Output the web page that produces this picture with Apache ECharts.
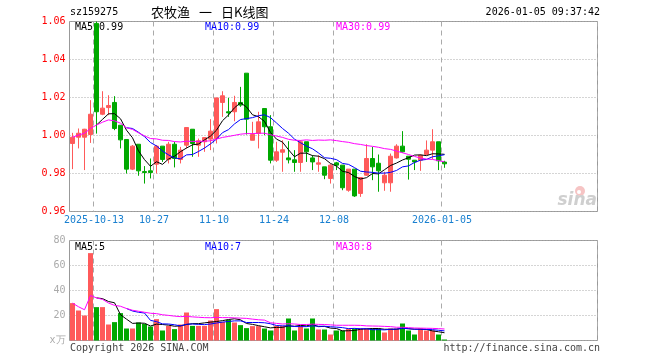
<!DOCTYPE html>
<html>
<head>
<meta charset="utf-8">
<script src="https://cdn.jsdelivr.net/npm/echarts@6/dist/echarts.min.js"></script>
<style>html,body{margin:0;padding:0;background:#fff}#c{width:660px;height:360px}</style>
</head>
<body>
<div id="c"></div>
<script>
// ---- data ----
const dates = ['2025-09-29','2025-09-30','2025-10-09','2025-10-10',
'2025-10-13','2025-10-14','2025-10-15','2025-10-16','2025-10-17',
'2025-10-20','2025-10-21','2025-10-22','2025-10-23','2025-10-24',
'2025-10-27','2025-10-28','2025-10-29','2025-10-30','2025-10-31',
'2025-11-03','2025-11-04','2025-11-05','2025-11-06','2025-11-07',
'2025-11-10','2025-11-11','2025-11-12','2025-11-13','2025-11-14',
'2025-11-17','2025-11-18','2025-11-19','2025-11-20','2025-11-21',
'2025-11-24','2025-11-25','2025-11-26','2025-11-27','2025-11-28',
'2025-12-01','2025-12-02','2025-12-03','2025-12-04','2025-12-05',
'2025-12-08','2025-12-09','2025-12-10','2025-12-11','2025-12-12',
'2025-12-15','2025-12-16','2025-12-17','2025-12-18','2025-12-19',
'2025-12-22','2025-12-23','2025-12-24','2025-12-25','2025-12-26',
'2025-12-29','2025-12-30','2025-12-31','2026-01-05'];

const opens  = [0.9958,0.9991,0.9991,1.0005,1.0590,1.0112,1.0147,1.0174,1.0054,0.9979,
0.9823,0.9954,0.9810,0.9814,0.9849,0.9944,0.9874,0.9954,0.9874,0.9949,
1.0033,0.9949,0.9967,0.9981,0.9984,1.0174,1.0125,1.0125,1.0174,1.0328,
0.9975,1.0011,1.0142,1.0046,0.9870,0.9912,0.9882,0.9872,0.9858,0.9967,
0.9882,0.9849,0.9835,0.9774,0.9856,0.9844,0.9712,0.9823,0.9695,0.9791,
0.9879,0.9854,0.9751,0.9751,0.9882,0.9944,0.9891,0.9870,0.9870,0.9900,
0.9923,0.9967,0.9860];
const closes = [0.9991,1.0012,1.0033,1.0112,1.0125,1.0144,1.0158,1.0037,0.9977,0.9823,
0.9944,0.9814,0.9805,0.9805,0.9944,0.9874,0.9954,0.9879,0.9923,1.0042,
0.9958,0.9972,0.9989,1.0023,1.0198,1.0209,1.0119,1.0174,1.0160,1.0086,
1.0005,1.0072,1.0046,0.9870,0.9914,0.9925,0.9872,0.9858,0.9967,0.9914,
0.9861,0.9856,0.9791,0.9844,0.9844,0.9725,0.9823,0.9682,0.9779,0.9879,
0.9835,0.9814,0.9791,0.9891,0.9944,0.9914,0.9875,0.9861,0.9896,0.9923,
0.9967,0.9867,0.9851];
const lows   = [0.9823,0.9932,0.9818,0.9961,1.0010,1.0107,1.0107,1.0028,0.9932,0.9800,
0.9818,0.9788,0.9747,0.9774,0.9800,0.9861,0.9853,0.9832,0.9853,0.9932,
0.9888,0.9888,0.9914,0.9923,0.9958,1.0098,1.0098,1.0075,1.0151,1.0005,
0.9975,0.9932,1.0002,0.9853,0.9861,0.9809,0.9853,0.9809,0.9809,0.9861,
0.9818,0.9809,0.9770,0.9747,0.9818,0.9712,0.9704,0.9677,0.9677,0.9788,
0.9765,0.9704,0.9709,0.9704,0.9879,0.9910,0.9768,0.9818,0.9814,0.9900,
0.9875,0.9818,0.9830];
const highs  = [1.0014,1.0037,1.0035,1.0186,1.0600,1.0233,1.0212,1.0207,1.0054,0.9979,
0.9950,0.9954,0.9839,0.9879,0.9950,0.9944,0.9967,0.9967,0.9940,1.0042,
1.0033,0.9984,0.9989,1.0086,1.0198,1.0233,1.0198,1.0209,1.0256,1.0328,
1.0072,1.0125,1.0142,1.0107,0.9967,0.9975,0.9970,0.9923,0.9975,0.9967,
0.9896,0.9896,0.9835,0.9849,0.9861,0.9844,0.9823,0.9823,0.9779,0.9954,
0.9940,0.9900,0.9809,0.9905,0.9954,1.0023,0.9891,0.9870,0.9900,0.9974,
1.0033,0.9967,0.9867];

const ma5 = ['-','-','-','-',1.0055,1.0085,1.0114,1.0115,1.0088,1.0028,
0.9988,0.9919,0.9873,0.9838,0.9862,0.9848,0.9876,0.9891,0.9915,0.9934,
0.9951,0.9955,0.9977,0.9997,1.0028,1.0078,1.0108,1.0146,1.0172,1.0150,
1.0109,1.0099,1.0074,1.0016,0.9981,0.9965,0.9925,0.9888,0.9907,0.9907,
0.9894,0.9891,0.9878,0.9853,0.9839,0.9812,0.9805,0.9784,0.9771,0.9778,
0.9800,0.9798,0.9820,0.9842,0.9855,0.9871,0.9883,0.9897,0.9898,0.9894,
0.9904,0.9903,0.9901];
const ma10 = ['-','-','-','-','-','-','-','-','-',1.0041,
1.0037,1.0017,0.9994,0.9963,0.9945,0.9918,0.9898,0.9882,0.9877,0.9898,
0.9900,0.9916,0.9934,0.9956,0.9981,1.0015,1.0031,1.0061,1.0084,1.0089,
1.0094,1.0104,1.0109,1.0094,1.0066,1.0037,1.0012,0.9981,0.9962,0.9944,
0.9930,0.9908,0.9883,0.9880,0.9873,0.9853,0.9848,0.9831,0.9812,0.9808,
0.9806,0.9802,0.9802,0.9806,0.9816,0.9835,0.9840,0.9858,0.9870,0.9874,
0.9888,0.9893,0.9899];
const ma30 = [0.9991,1.0002,1.0012,1.0037,1.0055,1.0070,1.0082,1.0077,1.0065,1.0041,
1.0032,1.0014,0.9998,0.9984,0.9982,0.9975,0.9974,0.9968,0.9966,0.9970,
0.9969,0.9969,0.9970,0.9972,0.9981,0.9990,0.9995,1.0001,1.0007,1.0010,
1.0010,1.0012,1.0012,1.0004,0.9997,0.9990,0.9980,0.9975,0.9974,0.9977,
0.9974,0.9976,0.9975,0.9977,0.9973,0.9968,0.9964,0.9957,0.9953,0.9947,
0.9943,0.9938,0.9931,0.9927,0.9918,0.9909,0.9900,0.9890,0.9881,0.9876,
0.9874,0.9868,0.9861];

const volumes = [29.9,24,20,69.9,26.7,26.7,12.8,14.7,21.9,9.6,
9.6,14.4,13.3,11.2,17.1,8,11.7,9.1,12.8,22.4,
11.7,11.7,11.7,16,25.1,14.9,16.5,14.4,12.3,9.9,
11.5,11.5,9.6,8,11.7,11.7,17.6,8,11.7,9.6,
17.6,8.8,8.8,4.8,8,8,9.6,9.6,9.6,9.6,
9.6,9.6,6.4,9.6,9.6,13.6,8,4.8,9.6,8,
8,4.8,0.8];
const vma5 = ['-','-','-','-',34.1,33.5,31.2,30.2,20.6,17.1,
13.7,14.0,13.8,11.6,13.1,12.8,12.3,11.4,11.7,12.8,
13.5,13.5,14.1,14.7,15.2,15.9,16.8,17.4,16.6,13.6,
12.9,11.9,11.0,10.1,10.5,10.5,11.7,11.4,12.1,11.7,
12.9,11.1,11.3,9.9,9.6,7.7,7.8,8.0,9.0,9.3,
9.6,9.6,9.0,9.0,9.0,9.8,9.4,9.1,9.1,8.8,
7.7,7.0,6.2];
const vma10 = ['-','-','-','-','-','-','-','-','-',25.6,
23.6,22.6,22.0,16.1,15.1,13.3,13.2,12.6,11.7,13.0,
13.2,12.9,12.7,13.2,14.0,14.7,15.2,15.7,15.7,14.4,
14.4,14.4,14.2,13.4,12.0,11.7,11.8,11.2,11.1,11.1,
11.7,11.4,11.4,11.0,10.7,10.3,9.5,9.7,9.4,9.4,
8.6,8.7,8.5,9.0,9.1,9.7,9.5,9.0,9.0,8.9,
8.7,8.2,7.7];
const vma30 = [29.9,27.0,24.6,36.0,34.1,32.9,30.0,28.1,27.4,25.6,
24.2,23.4,22.6,21.8,21.5,20.6,20.1,19.5,19.1,19.3,
18.9,18.6,18.3,18.2,18.5,18.3,18.3,18.1,17.9,17.7,
17.1,16.6,16.3,14.2,13.7,13.2,13.4,13.2,12.8,12.8,
13.1,12.9,12.8,12.5,12.2,12.2,12.2,12.2,12.1,11.7,
11.6,11.5,11.3,11.1,10.6,10.6,10.3,10.0,9.9,9.8,
9.7,9.5,9.2];

const tickIndex = [4,14,24,34,44,62];
const tickText = ['2025-10-13','10-27','11-10','11-24','12-08','2026-01-05'];
const priceTicks = {min:0.96, max:1.06, interval:0.02};
const volTicks = {min:0, max:80, interval:20};

// ---- layout / style ----
const SLOTS = 88;
const cats = dates.slice();
while (cats.length < SLOTS) cats.push('');
const RED = '#ff5a5a', GREEN = '#00a800';
const MONO = 'DejaVu Sans Mono';
const kdata = opens.map((o,i)=>[o, closes[i], lows[i], highs[i]]);
const vdata = volumes.map((v,i)=>({value:v, itemStyle:{color: closes[i] > opens[i] ? RED : GREEN}}));

const chart = echarts.init(document.getElementById('c'), null, {renderer:'canvas'});
const splitX = {show:true, interval:(idx)=>tickIndex.indexOf(idx) >= 0,
  lineStyle:{color:'#aaa', type:[5,4], width:1}};
const dotY = {show:true, lineStyle:{color:'#aaa', type:[1,2], width:1}};

function txt(x,y,s,color,opt){
  return Object.assign({type:'text', x:x, y:y, z:0, silent:true,
    style:{text:s, fill:color, font:'10px "'+MONO+'"', textVerticalAlign:'middle'}}, opt||{});
}

chart.setOption({
  animation:false,
  backgroundColor:'#fff',
  grid:[
    {left:69.5, top:21.5, width:528, height:190, show:true, borderColor:'#999', borderWidth:1, backgroundColor:'transparent'},
    {left:69.5, top:240.5, width:528, height:100, show:true, borderColor:'#999', borderWidth:1, backgroundColor:'transparent'}
  ],
  xAxis:[
    {type:'category', gridIndex:0, data:cats, boundaryGap:true,
     axisLine:{show:false}, axisTick:{show:false}, splitLine:splitX,
     axisLabel:{show:true, interval:(idx)=>tickIndex.indexOf(idx) >= 0,
       formatter:(v,idx)=>{const k=tickIndex.indexOf(idx); return k>=0?tickText[k]:'';},
       color:'#1a80d0', fontFamily:MONO, fontSize:10, margin:4, padding:[0,5,0,0]}},
    {type:'category', gridIndex:1, data:cats, boundaryGap:true,
     axisLine:{show:false}, axisTick:{show:false}, splitLine:splitX, axisLabel:{show:false}}
  ],
  yAxis:[
    {type:'value', gridIndex:0, min:priceTicks.min, max:priceTicks.max, interval:priceTicks.interval,
     axisLine:{show:false}, axisTick:{show:false}, splitLine:dotY,
     axisLabel:{color:'#ff0000', fontFamily:MONO, fontSize:10, margin:4, formatter:(v)=>v.toFixed(2)}},
    {type:'value', gridIndex:1, min:volTicks.min, max:volTicks.max, interval:volTicks.interval,
     axisLine:{show:false}, axisTick:{show:false}, splitLine:dotY,
     axisLabel:{color:'#aaa', fontFamily:MONO, fontSize:10, margin:4, formatter:(v)=> v===0 ? 'x万' : String(Math.round(v))}}
  ],
  series:[
    {type:'candlestick', xAxisIndex:0, yAxisIndex:0, data:kdata, barWidth:5, z:3,
     itemStyle:{color:RED, color0:GREEN, borderColor:RED, borderColor0:GREEN, borderWidth:1}},
    {type:'line', xAxisIndex:0, yAxisIndex:0, data:ma5, symbol:'none', z:4, lineStyle:{color:'#000', width:1}},
    {type:'line', xAxisIndex:0, yAxisIndex:0, data:ma10, symbol:'none', z:4, lineStyle:{color:'#0000ff', width:1}},
    {type:'line', xAxisIndex:0, yAxisIndex:0, data:ma30, symbol:'none', z:4, lineStyle:{color:'#ff00ff', width:1}},
    {type:'bar', xAxisIndex:1, yAxisIndex:1, data:vdata, barWidth:5, z:3},
    {type:'line', xAxisIndex:1, yAxisIndex:1, data:vma5, symbol:'none', z:4, lineStyle:{color:'#000', width:1}},
    {type:'line', xAxisIndex:1, yAxisIndex:1, data:vma10, symbol:'none', z:4, lineStyle:{color:'#0000ff', width:1}},
    {type:'line', xAxisIndex:1, yAxisIndex:1, data:vma30, symbol:'none', z:4, lineStyle:{color:'#ff00ff', width:1}}
  ],
  graphic:[
    txt(70,12,'sz159275','#000'),
    {type:'text', x:151, y:12, z:0, silent:true, style:{text:'农牧渔', fill:'#000', font:'13px "Noto Sans CJK SC"', textVerticalAlign:'middle'}},
    {type:'text', x:199, y:12, z:0, silent:true, style:{text:'一', fill:'#000', font:'13px "Noto Sans CJK SC"', textVerticalAlign:'middle'}},
    {type:'text', x:221, y:12, z:0, silent:true, style:{text:'日K线图', fill:'#000', font:'13px "Noto Sans CJK SC"', textVerticalAlign:'middle'}},
    {type:'text', x:600, y:12, z:0, silent:true, style:{text:'2026-01-05 09:37:42', fill:'#000', font:'10px "'+MONO+'"', textVerticalAlign:'middle', textAlign:'right'}},
    txt(75,27,'MA5:0.99','#000'),
    txt(205,27,'MA10:0.99','#0000ff'),
    txt(336,27,'MA30:0.99','#ff00ff'),
    txt(75,247,'MA5:5','#000'),
    txt(205,247,'MA10:7','#0000ff'),
    txt(336,247,'MA30:8','#ff00ff'),
    txt(70,348,'Copyright 2026 SINA.COM','#444'),
    {type:'text', x:600, y:348, z:0, silent:true, style:{text:'http://finance.sina.com.cn', fill:'#444', font:'10px "'+MONO+'"', textVerticalAlign:'middle', textAlign:'right'}},
    {type:'circle', z:0, silent:true, shape:{cx:580, cy:191, r:5}, style:{fill:'#f6c4c4'}},
    {type:'circle', z:0, silent:true, shape:{cx:579, cy:192, r:2}, style:{fill:'#fff'}},
    {type:'text', x:597, y:201, z:0, silent:true, style:{text:'sina', fill:'#cfcfcf', font:'italic bold 17px "DejaVu Sans"', textVerticalAlign:'middle', textAlign:'right'}}
  ]
});
</script>
</body>
</html>
